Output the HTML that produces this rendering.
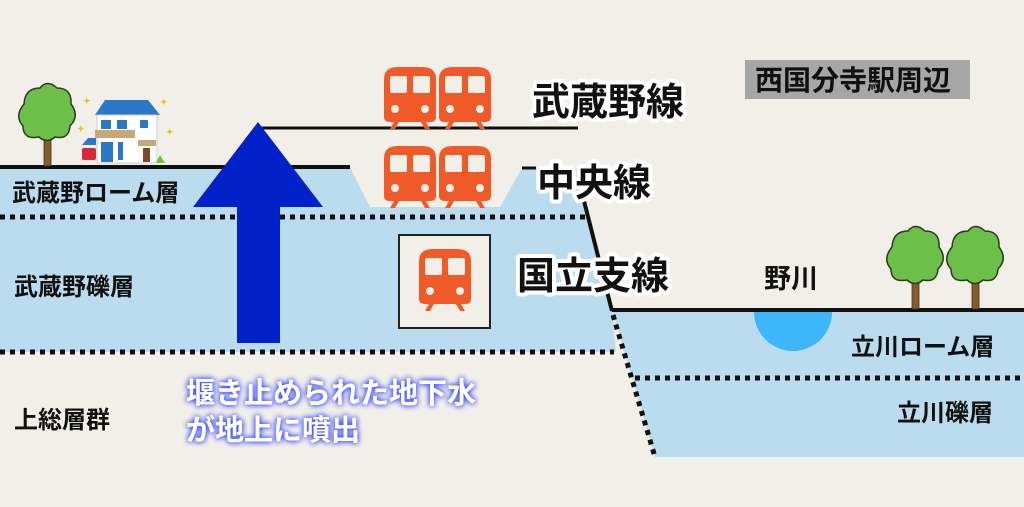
<!DOCTYPE html>
<html><head><meta charset="utf-8"><style>
html,body{margin:0;padding:0;background:#f2efe9;}
svg{display:block;}
text{font-family:"Liberation Sans","Noto Sans CJK JP",sans-serif;font-weight:bold;}
</style></head><body>
<svg width="1024" height="507" viewBox="0 0 1024 507" xmlns="http://www.w3.org/2000/svg">
<defs>
<g id="train">
<path d="M0,12 Q0,0 14,0 L38,0 Q52,0 52,12 L52,50 Q52,55 46,55 L6,55 Q0,55 0,50 Z" fill="#f05a28"/>
<rect x="6" y="9" width="17" height="17" rx="2" fill="#f2efe9"/>
<rect x="29" y="9" width="17" height="17" rx="2" fill="#f2efe9"/>
<circle cx="11" cy="42" r="4" fill="#f2efe9"/>
<circle cx="41" cy="42" r="4" fill="#f2efe9"/>
<path d="M10,55 L6,62 L11,62 L15,55 Z M42,55 L46,62 L41,62 L37,55 Z" fill="#f05a28"/>
</g>
<g id="tree">
<rect x="-3" y="8" width="7" height="34" fill="#8b5a2b" stroke="#333" stroke-width="0.8"/>
<path d="M-24,2 Q-33,-8 -23,-20 Q-22,-36 -7,-36 Q0,-45 10,-36 Q25,-36 24,-20 Q33,-8 23,2 Q22,16 8,13 Q0,20 -8,13 Q-24,16 -24,2 Z" fill="#6cc04a" stroke="#2c3a1e" stroke-width="1.5"/>
</g>
<filter id="glow" x="-20%" y="-50%" width="140%" height="200%">
<feGaussianBlur in="SourceAlpha" stdDeviation="3" result="b"/>
<feFlood flood-color="#3a4bff" result="c"/>
<feComposite in="c" in2="b" operator="in" result="g"/>
<feMerge><feMergeNode in="g"/><feMergeNode in="g"/><feMergeNode in="SourceGraphic"/></feMerge>
</filter>
<clipPath id="below"><rect x="0" y="310" width="1024" height="200"/></clipPath>
</defs>

<polygon points="0,167 350,167 370,207 500,207 522,168 577,168 612,310 616,352 0,352" fill="#badcee"/>
<polygon points="612,310 1024,310 1024,457 655,457" fill="#badcee"/>
<circle cx="793" cy="312" r="39" fill="#3db6fb" clip-path="url(#below)"/>

<polyline points="0,167 350,167" stroke="#111" stroke-width="4" fill="none"/>
<line x1="522" y1="168" x2="536" y2="168" stroke="#111" stroke-width="3"/>
<line x1="583" y1="197" x2="612" y2="311" stroke="#111" stroke-width="4"/>
<line x1="612" y1="310" x2="1024" y2="310" stroke="#111" stroke-width="4"/>
<line x1="258" y1="128" x2="578" y2="128" stroke="#111" stroke-width="3"/>

<g stroke="#111" stroke-width="5" stroke-dasharray="5,5" fill="none">
<line x1="0" y1="217" x2="586" y2="217"/>
<line x1="0" y1="352" x2="614" y2="352"/>
<line x1="635" y1="378" x2="1024" y2="378"/>
<line x1="613" y1="315" x2="655" y2="457"/>
</g>

<polygon points="258,122 323,207 280,207 280,343 237,343 237,207 193,207" fill="#0022c8"/>

<use href="#train" x="384" y="67"/>
<use href="#train" x="439" y="67"/>
<use href="#train" x="384" y="146"/>
<use href="#train" x="439" y="146"/>
<rect x="399" y="235" width="91" height="93" fill="#f2efe9" stroke="#222" stroke-width="2"/>
<use href="#train" x="419" y="249"/>

<use href="#tree" x="47" y="124"/>
<use href="#tree" x="915" y="267"/>
<use href="#tree" x="975" y="267"/>

<g>
<polygon points="95,115 105,100 148,100 160,115" fill="#2b78c8"/>
<rect x="97" y="115" width="60" height="48" fill="#fff" stroke="#ccc"/>
<rect x="95" y="130" width="40" height="8" fill="#c8a878"/>
<rect x="138" y="140" width="18" height="6" fill="#c8a878"/>
<rect x="101" y="120" width="10" height="9" fill="#2b78c8"/>
<rect x="117" y="120" width="10" height="9" fill="#2b78c8"/>
<rect x="140" y="120" width="8" height="8" fill="#2b78c8"/>
<rect x="101" y="142" width="12" height="20" fill="#2b78c8"/>
<rect x="118" y="142" width="5" height="18" fill="#2b78c8"/>
<rect x="143" y="148" width="7" height="14" fill="#7a4a2a"/>
<polygon points="82,145 88,138 96,138 96,145" fill="#2b78c8"/>
<rect x="82" y="148" width="14" height="12" rx="2" fill="#d8283c"/>
<polygon points="156,163 165,163 160,155" fill="#6cc04a"/>
<text x="83" y="104" font-size="9" fill="#f0c020">✦</text>
<text x="160" y="105" font-size="9" fill="#f0c020">✦</text>
<text x="166" y="135" font-size="9" fill="#f0c020">✦</text>
<text x="77" y="132" font-size="9" fill="#f0c020">✦</text>
</g>

<g font-size="38" fill="#111" stroke="#fff" stroke-width="8" paint-order="stroke" stroke-linejoin="round">
<text x="532" y="115">武蔵野線</text>
<text x="537" y="196">中央線</text>
<text x="517" y="289">国立支線</text>
</g>

<rect x="745" y="60" width="225" height="39" fill="#a6a6a6"/>
<text x="755" y="90" font-size="28" fill="#111">西国分寺駅周辺</text>

<g font-size="24" fill="#111">
<text x="12" y="201">武蔵野ローム層</text>
<text x="14" y="295">武蔵野礫層</text>
<text x="14" y="428">上総層群</text>
<text x="764" y="288" font-size="27">野川</text>
<text x="851" y="355">立川ローム層</text>
<text x="897" y="421">立川礫層</text>
</g>

<g font-size="29" fill="#fff" filter="url(#glow)">
<text x="186" y="403">堰き止められた地下水</text>
<text x="186" y="440">が地上に噴出</text>
</g>
</svg>
</body></html>
